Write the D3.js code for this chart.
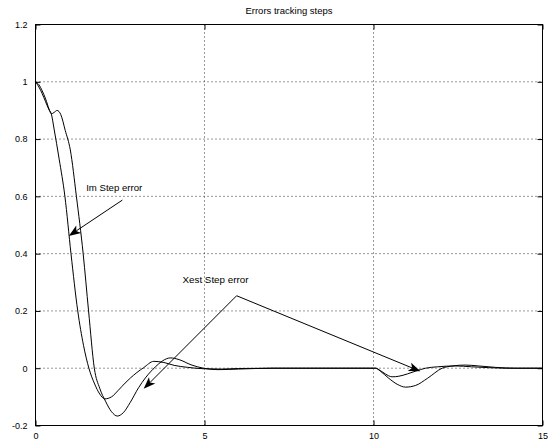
<!DOCTYPE html>
<html>
<head>
<meta charset="utf-8">
<script src="https://cdn.jsdelivr.net/npm/d3@7"></script>
<style>
  body { margin: 0; background: #fff; }
  text { font-family: "Liberation Sans", Arial, sans-serif; fill: #000; }
</style>
</head>
<body>
<div id="chart"></div>
<script>
// Data
const chartTitle = 'Errors tracking steps';
const xTicks = [0, 5, 10, 15];
const yTicks = [-0.2, 0, 0.2, 0.4, 0.6, 0.8, 1, 1.2];

// Im step error (faster curve)
const tIm = [0, 0.1, 0.2, 0.3, 0.4, 0.47, 0.55, 0.7, 0.87, 1.05, 1.25, 1.42, 1.58, 1.75, 1.9, 2.05,
  2.25, 2.45, 2.65, 2.81, 3.0, 3.2, 3.5, 3.8, 4.1, 4.5, 5.0, 5.5, 6, 7, 8, 9, 10, 10.06, 10.2, 10.35,
  10.55, 10.75, 11.0, 11.25, 11.54, 11.9, 12.43, 12.9, 13.4, 14, 15];
const eIm = [1, 0.982, 0.958, 0.93, 0.902, 0.887, 0.835, 0.73, 0.6, 0.4, 0.2, 0.08, 0, -0.055, -0.09, -0.107,
  -0.1, -0.077, -0.052, -0.034, -0.015, 0.002, 0.024, 0.02, 0.01, 0.003, -0.002, -0.003, -0.001, 0, 0, 0, 0, 0, -0.008, -0.02,
  -0.03, -0.028, -0.02, -0.01, 0, 0.005, 0.008, 0.005, 0.002, 0, 0];

// Xest step error (slower curve)
const tXest = [0, 0.1, 0.2, 0.3, 0.4, 0.47, 0.55, 0.64, 0.75, 0.88, 1.03, 1.21, 1.41, 1.57, 1.74, 1.9,
  2.07, 2.25, 2.42, 2.6, 2.8, 3.05, 3.25, 3.55, 3.75, 3.99, 4.25, 4.6, 4.97, 5.4, 6, 7, 8, 9, 10, 10.06,
  10.2, 10.45, 10.7, 10.95, 11.25, 11.6, 12.03, 12.35, 12.72, 13.1, 13.6, 14.2, 15];
const eXest = [1, 0.99, 0.968, 0.94, 0.905, 0.888, 0.893, 0.9, 0.885, 0.83, 0.762, 0.6, 0.4, 0.2, 0, -0.07,
  -0.115, -0.152, -0.167, -0.155, -0.12, -0.068, -0.034, 0.005, 0.025, 0.036, 0.03, 0.012, 0, -0.005, -0.003, 0, 0, 0, 0, 0,
  -0.01, -0.035, -0.056, -0.066, -0.06, -0.035, 0, 0.008, 0.011, 0.008, 0.003, 0, 0];

// Annotations (data coordinates)
const imLabel = 'Im Step error';
const xestLabel = 'Xest Step error';

function draw() {
  let dimensions = {
    width: 548,
    height: 446,
    margin: { top: 24.5, bottom: 20.5, left: 35.5, right: 5.5 }
  };
  dimensions.ctrWidth = dimensions.width - dimensions.margin.left - dimensions.margin.right;
  dimensions.ctrHeight = dimensions.height - dimensions.margin.top - dimensions.margin.bottom;

  const svg = d3.select('#chart')
    .append('svg')
    .attr('width', dimensions.width)
    .attr('height', dimensions.height);

  const ctr = svg.append('g')
    .attr('transform', `translate(${dimensions.margin.left},${dimensions.margin.top})`);

  // Scales
  const xScale = d3.scaleLinear().domain([0, 15]).range([0, dimensions.ctrWidth]);
  const yScale = d3.scaleLinear().domain([-0.2, 1.2]).range([dimensions.ctrHeight, 0]);

  // Grid
  const grid = ctr.append('g')
    .attr('stroke', '#333')
    .attr('stroke-width', 1)
    .attr('stroke-dasharray', '1,3');
  grid.selectAll('.gx')
    .data(xTicks.slice(1, -1))
    .join('line')
    .attr('x1', d => xScale(d)).attr('x2', d => xScale(d))
    .attr('y1', 0).attr('y2', dimensions.ctrHeight);
  grid.selectAll('.gy')
    .data(yTicks.slice(1, -1))
    .join('line')
    .attr('y1', d => yScale(d)).attr('y2', d => yScale(d))
    .attr('x1', 0).attr('x2', dimensions.ctrWidth);

  // Axes (ticks inward)
  const fmt = d => String(d);
  const xAxis = ctr.append('g')
    .attr('transform', `translate(0,${dimensions.ctrHeight})`)
    .call(d3.axisBottom(xScale).tickValues(xTicks).tickFormat(fmt).tickSizeInner(-5).tickSizeOuter(0).tickPadding(7));
  const xAxisTop = ctr.append('g')
    .call(d3.axisTop(xScale).tickValues(xTicks).tickFormat('').tickSizeInner(-5).tickSizeOuter(0));
  const yAxis = ctr.append('g')
    .call(d3.axisLeft(yScale).tickValues(yTicks).tickFormat(fmt).tickSizeInner(-5).tickSizeOuter(0).tickPadding(8));
  const yAxisRight = ctr.append('g')
    .attr('transform', `translate(${dimensions.ctrWidth},0)`)
    .call(d3.axisRight(yScale).tickValues(yTicks).tickFormat('').tickSizeInner(-5).tickSizeOuter(0));

  [xAxis, xAxisTop, yAxis, yAxisRight].forEach(a => {
    a.select('.domain').remove();
    a.selectAll('text').attr('font-size', 9).attr('font-family', '"Liberation Sans", Arial, sans-serif').attr('fill', '#000');
    a.selectAll('line').attr('stroke', '#000');
  });

  // Box
  ctr.append('rect')
    .attr('width', dimensions.ctrWidth)
    .attr('height', dimensions.ctrHeight)
    .attr('fill', 'none')
    .attr('stroke', '#000')
    .attr('stroke-width', 1);

  // Curves
  const line = d3.line()
    .x(d => xScale(d[0]))
    .y(d => yScale(d[1]))
    .curve(d3.curveMonotoneX);

  ctr.append('path')
    .datum(d3.zip(tIm, eIm))
    .attr('d', line)
    .attr('fill', 'none')
    .attr('stroke', '#000')
    .attr('stroke-width', 1);

  ctr.append('path')
    .datum(d3.zip(tXest, eXest))
    .attr('d', line)
    .attr('fill', 'none')
    .attr('stroke', '#000')
    .attr('stroke-width', 1);

  // Arrows
  function arrow(from, to) {
    const x1 = xScale(from[0]), y1 = yScale(from[1]);
    const x2 = xScale(to[0]), y2 = yScale(to[1]);
    const ang = Math.atan2(y2 - y1, x2 - x1);
    const len = 12, half = 4.5, notch = 9;
    const ux = Math.cos(ang), uy = Math.sin(ang);
    const bx = x2 - ux * len, by = y2 - uy * len;
    const nx = x2 - ux * notch, ny = y2 - uy * notch;
    ctr.append('line')
      .attr('x1', x1).attr('y1', y1)
      .attr('x2', nx).attr('y2', ny)
      .attr('stroke', '#000').attr('stroke-width', 1);
    ctr.append('path')
      .attr('d', `M${x2},${y2}L${bx - uy * half},${by + ux * half}L${nx},${ny}L${bx + uy * half},${by - ux * half}Z`)
      .attr('fill', '#000');
  }

  arrow([2.57, 0.587], [0.985, 0.462]);
  arrow([5.95, 0.253], [3.2, -0.072]);
  arrow([5.95, 0.253], [11.39, -0.011]);

  ctr.append('text')
    .attr('x', xScale(1.5)).attr('y', yScale(0.62))
    .attr('font-size', 9.6)
    .text(imLabel);

  ctr.append('text')
    .attr('x', xScale(4.35)).attr('y', yScale(0.299))
    .attr('font-size', 9.8)
    .text(xestLabel);

  // Title
  svg.append('text')
    .attr('x', dimensions.margin.left + dimensions.ctrWidth / 2)
    .attr('y', 13.5)
    .attr('text-anchor', 'middle')
    .attr('font-size', 9.5)
    .text(chartTitle);
}

draw();
</script>
</body>
</html>
